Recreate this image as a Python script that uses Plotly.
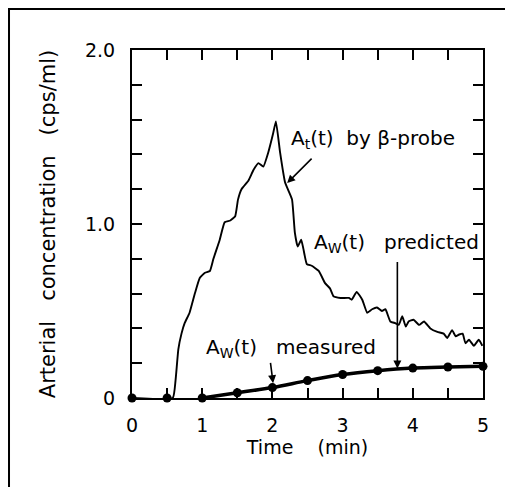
import plotly.graph_objects as go

# A_t(t) by beta-probe (min, cps/ml)
probe_t = [0, 0.58, 0.62, 0.66, 0.705, 0.75, 0.82, 0.895, 0.965, 1.04, 1.11, 1.16, 1.25, 1.32, 1.40, 1.47,
           1.51, 1.56, 1.66, 1.73, 1.80, 1.87, 1.94, 2.01, 2.05, 2.11, 2.18, 2.23, 2.28, 2.32, 2.36,
           2.41, 2.44, 2.49, 2.56, 2.66, 2.75, 2.82, 2.87, 2.97, 3.09, 3.13, 3.20, 3.28, 3.35, 3.42,
           3.49, 3.56, 3.61, 3.68, 3.75, 3.80, 3.85, 3.90, 3.94, 4.01, 4.09, 4.16, 4.25, 4.35, 4.44,
           4.49, 4.56, 4.61, 4.66, 4.71, 4.75, 4.80, 4.87, 4.94, 4.99]
probe_v = [0, 0, 0.10, 0.28, 0.37, 0.43, 0.49, 0.60, 0.69, 0.72, 0.73, 0.80, 0.91, 1.01, 1.02, 1.045,
           1.14, 1.20, 1.25, 1.31, 1.35, 1.33, 1.41, 1.52, 1.59, 1.41, 1.24, 1.19, 1.14, 0.95, 0.87,
           0.91, 0.86, 0.77, 0.76, 0.73, 0.66, 0.63, 0.585, 0.575, 0.575, 0.565, 0.61, 0.565, 0.49, 0.51,
           0.52, 0.50, 0.51, 0.44, 0.43, 0.42, 0.47, 0.41, 0.44, 0.45, 0.42, 0.44, 0.40, 0.38, 0.37,
           0.345, 0.39, 0.355, 0.365, 0.37, 0.315, 0.335, 0.30, 0.335, 0.30]

# A_W(t) measured
meas_t = [0, 0.5, 1.0, 1.5, 2.0, 2.5, 3.0, 3.5, 4.0, 4.5, 5.0]
meas_v = [0, 0, 0, 0.03, 0.06, 0.10, 0.135, 0.157, 0.172, 0.178, 0.182]

x_ticks = [0, 1, 2, 3, 4, 5]
x_labels = ["0", "1", "2", "3", "4", "5"]
y_ticks = [0, 1, 2]
y_labels = ["0", "1.0", "2.0"]

FONT = "DejaVu Sans"
NB = "\u00a0"

fig = go.Figure()
fig.add_trace(go.Scatter(x=probe_t, y=probe_v, mode="lines", line=dict(color="black", width=1.9, shape="spline", smoothing=0.4),
                         showlegend=False, hoverinfo="skip"))
fig.add_trace(go.Scatter(x=meas_t[2:], y=meas_v[2:], mode="lines", line=dict(color="black", width=3.5, shape="spline"),
                         showlegend=False, hoverinfo="skip"))
fig.add_trace(go.Scatter(x=meas_t, y=meas_v, mode="markers", marker=dict(color="black", size=9),
                         showlegend=False, cliponaxis=False, hoverinfo="skip"))

axis_common = dict(showgrid=False, zeroline=False, showline=True, linecolor="black", linewidth=2, mirror="ticks",
                   ticks="inside", tickcolor="black", tickwidth=1.5, ticklen=10,
                   tickfont=dict(family=FONT, size=19, color="black"))
fig.update_xaxes(range=[0, 5], tickvals=x_ticks, ticktext=x_labels, ticklabelstandoff=9,
                 minor=dict(dtick=0.5, ticks="inside", ticklen=10, tickcolor="black", tickwidth=1.5),
                 title=dict(text="Time" + NB * 4 + "(min)", font=dict(family=FONT, size=19, color="black"), standoff=2),
                 **axis_common)
fig.update_yaxes(range=[0, 2], tickvals=y_ticks, ticktext=y_labels, ticklabelstandoff=11,
                 minor=dict(dtick=0.2, ticks="inside", ticklen=10, tickcolor="black", tickwidth=1.5),
                 title=dict(text="Arterial" + NB * 3 + "concentration" + NB * 3 + "(cps/ml)",
                            font=dict(family=FONT, size=21, color="black"), standoff=24),
                 **axis_common)

ann_font = dict(family=FONT, size=20, color="black")
fig.add_annotation(x=2.24, y=1.49, xref="x", yref="y", text="A<sub>t</sub>(t)" + NB * 2 + "by β-probe",
                   showarrow=False, xanchor="left", yanchor="middle", font=ann_font)
fig.add_annotation(x=2.56, y=0.89, xref="x", yref="y", text="A<sub>W</sub>(t)" + NB * 3 + "predicted",
                   showarrow=False, xanchor="left", yanchor="middle", font=ann_font)
fig.add_annotation(x=1.03, y=0.29, xref="x", yref="y", text="A<sub>W</sub>(t)" + NB * 3 + "measured",
                   showarrow=False, xanchor="left", yanchor="middle", font=ann_font)
arrow = dict(showarrow=True, arrowhead=2, arrowsize=1, arrowwidth=1.6, arrowcolor="black",
             xref="x", yref="y", axref="x", ayref="y", text="")
fig.add_annotation(x=2.21, y=1.235, ax=2.58, ay=1.384, **arrow)
fig.add_annotation(x=3.78, y=0.17, ax=3.78, ay=0.79, **arrow)
fig.add_annotation(x=2.01, y=0.085, ax=1.97, ay=0.21, **arrow)

# outer frame
fig.add_shape(type="rect", xref="paper", yref="paper", x0=-0.3504, x1=1.0769, y0=-0.30, y1=1.1178,
              line=dict(color="black", width=2))

fig.update_layout(width=513, height=487, margin=dict(l=124, r=38, t=42, b=97),
                  plot_bgcolor="white", paper_bgcolor="white", font=dict(family=FONT, color="black"))
fig.write_html("out.html")
